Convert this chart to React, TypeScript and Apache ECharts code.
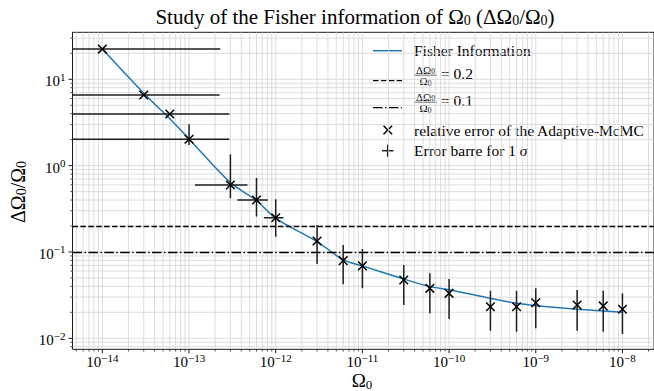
import React, { useEffect, useRef } from "react";
import * as echarts from "echarts";

// ---------- data ----------
const omega = [1e-14, 3e-14, 6e-14, 1e-13, 3e-13, 6e-13, 1e-12, 3e-12, 6e-12, 1e-11, 3e-11, 6e-11, 1e-10, 3e-10, 6e-10, 1e-9, 3e-9, 6e-9, 1e-8];
const fisherCurve = [22.4, 6.9, 3.5, 2.04, 0.636, 0.395, 0.245, 0.132, 0.081, 0.069, 0.0486, 0.0397, 0.0365, 0.029, 0.0254, 0.0239, 0.0217, 0.0207, 0.02];
const relErr = [22.4, 6.58, 3.96, 2.02, 0.597, 0.4, 0.249, 0.134, 0.0793, 0.069, 0.0473, 0.0379, 0.0332, 0.0232, 0.0232, 0.0258, 0.0243, 0.0237, 0.0217];
const errLow = [22.4, 6.58, 3.96, 1.73, 0.419, 0.257, 0.15, 0.0727, 0.0422, 0.0379, 0.0243, 0.0195, 0.0167, 0.01225, 0.0119, 0.0131, 0.01225, 0.0119, 0.0112];
const errHigh = [22.4, 6.58, 3.96, 3.01, 1.35, 0.72, 0.407, 0.205, 0.1205, 0.108, 0.0706, 0.0566, 0.0486, 0.0356, 0.0353, 0.0379, 0.0363, 0.0356, 0.0332];
const xLow = [1e-16, 1e-16, 1e-16, 1e-16, 1.17e-13, 3.6e-13, 7.3e-13, 3e-12, 6e-12, 1e-11, 3e-11, 6e-11, 1e-10, 3e-10, 6e-10, 1e-9, 3e-9, 6e-9, 1e-8];
const xHigh = [2.29e-13, 2.25e-13, 2.92e-13, 2.92e-13, 4.72e-13, 8.1e-13, 1.23e-12, 3e-12, 6e-12, 1e-11, 3e-11, 6e-11, 1e-10, 3e-10, 6e-10, 1e-9, 3e-9, 6e-9, 1e-8];
const thresholds = [0.2, 0.1];
const legendLabels = ["Fisher Information", "= 0.2", "= 0.1", "relative error of the Adaptive-McMC", "Error barre for 1 "];
const titleText = "Study of the Fisher information of Ω{sub|0} (ΔΩ{sub|0}/Ω{sub|0})";
const xDecades = [-15, -14, -13, -12, -11, -10, -9, -8, -7];
const yDecades = [-3, -2, -1, 0, 1];

// ---------- styles ----------
const FF = "Liberation Serif";
const BLUE = "#1f77b4";
const DASH = [5.5, 2.4];
const DASHDOT = [9.6, 2.4, 1.5, 2.4];
const GRIDC = "#d4d4d4";

const X_MIN = Math.pow(10, -14.3445);
const X_MAX = Math.pow(10, -7.636);
const Y_MIN = Math.pow(10, -2.1274);
const Y_MAX = Math.pow(10, 1.5445);

function supFormatter(v: number) {
  const e = Math.log10(v);
  const r = Math.round(e);
  if (Math.abs(e - r) > 1e-6) return "";
  const s = r < 0 ? "−" + Math.abs(r) : String(r);
  return "{b|10}{s|" + s + "}";
}

const richSup = {
  b: { fontSize: 15, lineHeight: 14, fontFamily: FF, color: "#000", padding: [4, 0, 0, 0] },
  s: { fontSize: 11, lineHeight: 10, fontFamily: FF, color: "#000", padding: [0, 0, 5, 0] },
};

const subRich = (size: number, base = 15) => ({
  sub: { fontSize: size, lineHeight: size, fontFamily: FF, fill: "#000", padding: [Math.round(size * 0.5), 0, 0, 0] },
  i: { fontSize: base, fontFamily: FF, fontStyle: "italic", fill: "#000" },
});

export default function App() {
  const ref = useRef<HTMLDivElement>(null);
  useEffect(() => {
    if (!ref.current) return;
    const chart = echarts.init(ref.current, undefined, { renderer: "svg" });

    const decor = {
      type: "custom",
      silent: true,
      clip: false,
      z: 0,
      data: [[1e-12, 1]],
      renderItem: (params: any, api: any) => {
        const cs = params.coordSys;
        const left = cs.x, top = cs.y, right = cs.x + cs.width, bottom = cs.y + cs.height;
        const ch: any[] = [];
        xDecades.forEach((k) => {
          for (let m = 1; m <= 9; m++) {
            const v = m * Math.pow(10, k);
            const px = api.coord([v, 1])[0];
            if (px < left - 0.1 || px > right + 0.1) continue;
            ch.push({ type: "line", shape: { x1: px, y1: top, x2: px, y2: bottom }, style: { stroke: GRIDC, lineWidth: 0.8 } });
            const len = m === 1 ? 4 : 2.2;
            ch.push({ type: "line", shape: { x1: px, y1: bottom, x2: px, y2: bottom + len }, style: { stroke: "#000", lineWidth: m === 1 ? 0.9 : 0.7 } });
          }
        });
        yDecades.forEach((k) => {
          for (let m = 1; m <= 9; m++) {
            const v = m * Math.pow(10, k);
            const py = api.coord([1e-12, v])[1];
            if (py < top - 0.1 || py > bottom + 0.1) continue;
            ch.push({ type: "line", shape: { x1: left, y1: py, x2: right, y2: py }, style: { stroke: GRIDC, lineWidth: 0.8 } });
            const len = m === 1 ? 4 : 2.2;
            ch.push({ type: "line", shape: { x1: left - len, y1: py, x2: left, y2: py }, style: { stroke: "#000", lineWidth: m === 1 ? 0.9 : 0.7 } });
          }
        });
        return { type: "group", children: ch };
      },
    };

    const errData = omega.map((x, i) => [x, relErr[i], xLow[i], xHigh[i], errLow[i], errHigh[i]]);
    const errSeries = {
      type: "custom",
      clip: true,
      z: 5,
      data: errData,
      renderItem: (params: any, api: any) => {
        const x = api.value(0), y = api.value(1);
        const c = api.coord([x, y]);
        const a = api.coord([api.value(2), y]);
        const b = api.coord([api.value(3), y]);
        const lo = api.coord([x, api.value(4)]);
        const hi = api.coord([x, api.value(5)]);
        const st = { stroke: "#1e1e1e", lineWidth: 1.5 };
        const ch: any[] = [];
        if (Math.abs(b[0] - a[0]) > 0.5) ch.push({ type: "line", shape: { x1: a[0], y1: c[1], x2: b[0], y2: c[1] }, style: st });
        if (Math.abs(hi[1] - lo[1]) > 0.5) ch.push({ type: "line", shape: { x1: c[0], y1: lo[1], x2: c[0], y2: hi[1] }, style: st });
        const r = 4.3;
        const ms = { stroke: "#000", lineWidth: 1.5 };
        ch.push({ type: "line", shape: { x1: c[0] - r, y1: c[1] - r, x2: c[0] + r, y2: c[1] + r }, style: ms });
        ch.push({ type: "line", shape: { x1: c[0] - r, y1: c[1] + r, x2: c[0] + r, y2: c[1] - r }, style: ms });
        return { type: "group", children: ch };
      },
    };

    const lx1 = 373, lx2 = 402, tx = 414;
    const legendY = [50.7, 80.7, 107.7, 130, 150.7];
    const fracCx = 425.5;
    const LF = `15.5px "${FF}"`;
    const graphic: any[] = [
      { type: "text", x: 355, y: 17, style: { text: titleText, font: `21px "${FF}"`, fill: "#000", align: "center", verticalAlign: "middle", rich: subRich(14) } },
      { type: "text", x: 362, y: 380.5, style: { text: "Ω{sub|0}", font: `19px "${FF}"`, fill: "#000", align: "center", verticalAlign: "middle", rich: subRich(13) } },
      { type: "text", x: 18, y: 192, rotation: Math.PI / 2, style: { text: "ΔΩ{sub|0}/Ω{sub|0}", font: `20px "${FF}"`, fill: "#000", align: "center", verticalAlign: "middle", rich: subRich(14) } },
      // legend
      { type: "line", shape: { x1: lx1, y1: legendY[0], x2: lx2, y2: legendY[0] }, style: { stroke: BLUE, lineWidth: 1.5 } },
      { type: "text", x: tx, y: legendY[0], style: { text: legendLabels[0], font: LF, fill: "#000", align: "left", verticalAlign: "middle" } },
      { type: "line", shape: { x1: lx1, y1: legendY[1], x2: lx2, y2: legendY[1] }, style: { stroke: "#000", lineWidth: 1.3, lineDash: DASH } },
      { type: "line", shape: { x1: lx1, y1: legendY[2], x2: lx2, y2: legendY[2] }, style: { stroke: "#000", lineWidth: 1.3, lineDash: DASHDOT } },
      { type: "line", shape: { x1: lx1 + 10.5, y1: legendY[3] - 4.3, x2: lx1 + 19.1, y2: legendY[3] + 4.3 }, style: { stroke: "#000", lineWidth: 1.5 } },
      { type: "line", shape: { x1: lx1 + 10.5, y1: legendY[3] + 4.3, x2: lx1 + 19.1, y2: legendY[3] - 4.3 }, style: { stroke: "#000", lineWidth: 1.5 } },
      { type: "text", x: tx, y: legendY[3], style: { text: legendLabels[3], font: LF, fill: "#000", align: "left", verticalAlign: "middle" } },
      { type: "line", shape: { x1: lx1 + 9, y1: legendY[4], x2: lx1 + 20.5, y2: legendY[4] }, style: { stroke: "#1e1e1e", lineWidth: 1.5 } },
      { type: "line", shape: { x1: lx1 + 14.7, y1: legendY[4] - 6, x2: lx1 + 14.7, y2: legendY[4] + 6 }, style: { stroke: "#1e1e1e", lineWidth: 1.5 } },
      { type: "text", x: tx, y: legendY[4], style: { text: legendLabels[4] + "{i|σ}", font: LF, fill: "#000", align: "left", verticalAlign: "middle", rich: subRich(10, 15.5) } },
    ];
    [1, 2].forEach((k) => {
      const yb = legendY[k] - 5.5;
      graphic.push({ type: "text", x: fracCx, y: yb - 5.5, style: { text: "ΔΩ{sub|0}", font: `11px "${FF}"`, fill: "#000", align: "center", verticalAlign: "middle", rich: subRich(7.5) } });
      graphic.push({ type: "line", shape: { x1: fracCx - 11.5, y1: yb, x2: fracCx + 11.5, y2: yb }, style: { stroke: "#000", lineWidth: 0.6 } });
      graphic.push({ type: "text", x: fracCx, y: yb + 6, style: { text: "Ω{sub|0}", font: `11px "${FF}"`, fill: "#000", align: "center", verticalAlign: "middle", rich: subRich(7.5) } });
      graphic.push({ type: "text", x: 441, y: yb - 1.5, style: { text: legendLabels[k], font: LF, fill: "#000", align: "left", verticalAlign: "middle" } });
    });

    chart.setOption({
      animation: false,
      grid: { left: 72.5, top: 32.3, width: 590, height: 317, show: true, borderColor: "#000", borderWidth: 0.9, backgroundColor: "transparent" },
      xAxis: {
        type: "log",
        logBase: 10,
        min: X_MIN,
        max: X_MAX,
        axisLine: { show: false },
        axisTick: { show: false },
        splitLine: { show: false },
        minorSplitLine: { show: false },
        axisLabel: { formatter: supFormatter, rich: richSup, margin: 4, showMinLabel: false, showMaxLabel: false },
      },
      yAxis: {
        type: "log",
        logBase: 10,
        min: Y_MIN,
        max: Y_MAX,
        axisLine: { show: false },
        axisTick: { show: false },
        splitLine: { show: false },
        axisLabel: { formatter: supFormatter, rich: richSup, margin: 7, showMinLabel: false, showMaxLabel: false },
      },
      graphic,
      series: [
        decor,
        {
          type: "line",
          z: 3,
          data: omega.map((x, i) => [x, fisherCurve[i]]),
          showSymbol: false,
          symbol: "none",
          smooth: 0.3,
          lineStyle: { color: BLUE, width: 1.5 },
          silent: true,
          markLine: {
            silent: true,
            symbol: ["none", "none"],
            label: { show: false },
            data: thresholds.map((t, i) => ({ yAxis: t, lineStyle: { color: "#000", width: 1.3, type: i === 0 ? DASH : DASHDOT } })),
          },
        },
        errSeries,
      ],
    });
    return () => chart.dispose();
  }, []);
  return <div ref={ref} style={{ position: "absolute", left: 0, top: 0, width: 654, height: 391, background: "#fff" }} />;
}
